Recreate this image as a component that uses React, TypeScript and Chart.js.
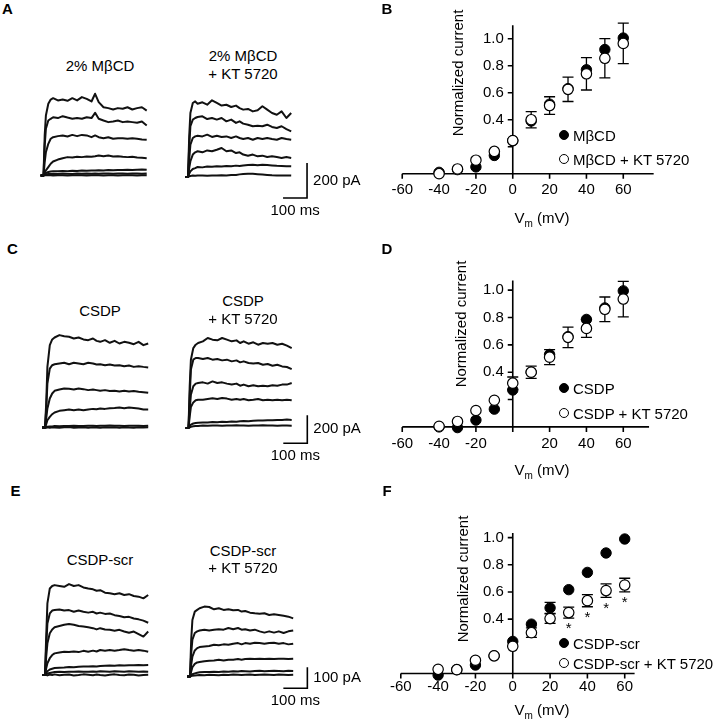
import React, { useEffect, useRef } from "react";
import { Chart, registerables } from "chart.js";
Chart.register(...registerables);

const FONT = '"Liberation Sans", Arial, Helvetica, sans-serif';

// ---------------- I-V data (normalized current) ----------------
const voltages = [-40, -30, -20, -10, 0, 10, 20, 30, 40, 50, 60];
const xTickValues = [-60, -40, -20, 0, 20, 40, 60];
const xTickLabelsB = ["-60", "-40", "-20", "0", "20", "40", "60"];
const xTickLabelsD = ["-60", "-40", "-20", "", "20", "40", "60"];
const xTickLabelsF = ["-60", "-40", "-20", "0", "20", "40", "60"];
const yTickValues = [0.2, 0.4, 0.6, 0.8, 1.0];
const yTickLabels = ["", "0.4", "0.6", "0.8", "1.0"];

const bFilled = [0.01, 0.03, 0.05, 0.135, 0.245, 0.39, 0.515, 0.63, 0.77, 0.92, 1.005];
const bFilledErr = [0, 0, 0, 0, 0, 0, 0, 0, 0, 0, 0];
const bOpen = [0.0, 0.035, 0.1, 0.165, 0.245, 0.4, 0.505, 0.625, 0.74, 0.855, 0.965];
const bOpenErr = [0, 0, 0, 0, 0, 0.06, 0.065, 0.09, 0.12, 0.145, 0.15];

const dFilled = [0.0, -0.005, 0.05, 0.13, 0.27, 0.4, 0.53, 0.66, 0.786, 0.87, 0.995];
const dFilledErr = [0, 0, 0, 0, 0, 0, 0, 0, 0, 0, 0];
const dOpen = [0.005, 0.04, 0.12, 0.195, 0.32, 0.4, 0.51, 0.655, 0.72, 0.86, 0.935];
const dOpenErr = [0, 0, 0, 0, 0.045, 0.045, 0.055, 0.075, 0.065, 0.09, 0.13];

const fFilled = [-0.012, 0.028, 0.062, 0.13, 0.236, 0.363, 0.483, 0.617, 0.744, 0.887, 0.99];
const fFilledErr = [0, 0, 0, 0, 0, 0, 0.04, 0, 0, 0, 0];
const fOpen = [0.03, 0.028, 0.097, 0.13, 0.2, 0.3, 0.404, 0.448, 0.536, 0.61, 0.651];
const fOpenErr = [0, 0, 0, 0, 0, 0.035, 0.035, 0.04, 0.045, 0.05, 0.05];
const fStarVoltages = [30, 40, 50, 60];

// ---------------- current traces (pA vs ms) ----------------
const traceTimes = [-12, 0, 5, 10, 20, 30, 40, 60, 80, 100, 120, 140, 160, 180, 200, 215, 230, 250, 270, 290, 310, 330, 350, 370, 390, 410, 430];

const aLeft = [
  [0, 0, 229, 343, 410, 434, 442, 429, 434, 427, 442, 429, 448, 438, 423, 467, 419, 390, 385, 377, 385, 381, 390, 377, 385, 390, 371],
  [0, 0, 171, 267, 314, 324, 333, 328, 339, 331, 324, 328, 324, 333, 328, 358, 324, 314, 305, 309, 314, 305, 309, 305, 301, 309, 286],
  [0, 0, 76, 133, 181, 210, 219, 225, 229, 223, 232, 225, 232, 229, 219, 229, 219, 213, 219, 210, 213, 213, 210, 213, 210, 206, 204],
  [0, 0, 15, 29, 48, 67, 80, 91, 99, 105, 103, 107, 105, 109, 107, 110, 114, 110, 114, 109, 110, 107, 105, 107, 103, 101, 99],
  [0, 0, 8, 14, 20, 23, 25, 24, 26, 25, 27, 26, 28, 27, 29, 28, 30, 29, 31, 30, 32, 31, 33, 32, 33, 34, 33],
  [0, 0, 4, 6, 8, 9, 10, 9, 11, 10, 9, 11, 10, 12, 10, 11, 10, 12, 11, 10, 12, 11, 10, 11, 12, 10, 11],
  [0, 0, 2, 1, 2, 1, 0, 2, 1, 0, 2, 1, 2, 0, 1, 2, 1, 0, 2, 1, 0, 1, 2, 1, 0, 1, 2],
];
const aRight = [
  [0, 0, 232, 366, 423, 432, 419, 427, 413, 438, 423, 408, 413, 400, 408, 394, 385, 389, 375, 381, 404, 385, 366, 356, 375, 337, 366],
  [0, 0, 175, 290, 328, 337, 343, 347, 331, 337, 328, 337, 318, 328, 309, 318, 305, 299, 290, 293, 290, 299, 286, 280, 290, 274, 261],
  [0, 0, 99, 185, 223, 232, 236, 232, 242, 229, 236, 229, 232, 223, 232, 223, 217, 223, 213, 223, 217, 223, 217, 213, 223, 217, 213],
  [0, 0, 51, 90, 128, 141, 147, 141, 152, 147, 156, 166, 147, 152, 137, 141, 128, 122, 128, 118, 122, 114, 118, 114, 109, 114, 109],
  [0, 0, 19, 32, 46, 51, 57, 55, 60, 58, 62, 60, 63, 61, 65, 63, 66, 68, 70, 67, 70, 68, 66, 64, 63, 62, 61],
  [0, 0, 4, 6, 8, 7, 9, 8, 7, 9, 8, 10, 9, 11, 12, 15, 17, 19, 18, 16, 14, 12, 10, 9, 8, 9, 8],
];
const cLeft = [
  [0, 0, 171, 433, 588, 629, 643, 660, 652, 648, 636, 643, 629, 624, 636, 619, 612, 624, 605, 619, 600, 612, 605, 595, 612, 588, 600],
  [0, 0, 124, 314, 421, 445, 452, 457, 462, 452, 462, 457, 452, 462, 457, 450, 452, 445, 450, 443, 445, 438, 443, 433, 438, 433, 429],
  [0, 0, 64, 136, 207, 243, 262, 271, 279, 276, 271, 279, 274, 267, 271, 267, 262, 267, 260, 262, 257, 262, 257, 260, 255, 252, 248],
  [0, 0, 24, 52, 76, 95, 107, 119, 124, 129, 124, 129, 124, 129, 133, 131, 136, 133, 138, 140, 143, 138, 143, 140, 136, 129, 129],
  [0, 0, 3, 5, 7, 8, 10, 9, 11, 10, 12, 10, 11, 13, 12, 11, 13, 12, 14, 12, 13, 11, 12, 13, 12, 11, 12],
  [0, 0, -2, 1, -1, 2, 0, -2, 1, 3, -1, 0, 2, -1, 1, 0, -2, 2, 0, 1, -1, 2, 0, -1, 1, 0, 2],
];
const cRight = [
  [0, 0, 298, 488, 571, 595, 607, 619, 643, 631, 626, 643, 631, 619, 626, 607, 619, 602, 612, 595, 607, 602, 607, 595, 602, 588, 571],
  [0, 0, 226, 417, 488, 500, 500, 493, 500, 488, 493, 483, 488, 476, 483, 469, 476, 464, 460, 464, 452, 457, 445, 452, 440, 436, 421],
  [0, 0, 131, 238, 298, 317, 321, 326, 317, 333, 321, 326, 317, 310, 317, 302, 310, 298, 305, 298, 302, 298, 305, 302, 310, 310, 321],
  [0, 0, 83, 150, 183, 198, 202, 202, 207, 212, 207, 214, 210, 202, 207, 202, 207, 198, 202, 207, 198, 202, 198, 202, 198, 202, 198],
  [0, 0, 14, 24, 32, 36, 38, 40, 39, 42, 41, 44, 43, 46, 45, 48, 50, 49, 52, 54, 53, 56, 55, 58, 57, 60, 58],
  [0, 0, 5, 9, 12, 14, 15, 17, 16, 18, 17, 16, 18, 17, 19, 18, 17, 16, 18, 17, 19, 18, 17, 16, 18, 17, 16],
];
const eLeft = [
  [0, 0, 183, 341, 412, 424, 428, 424, 420, 433, 424, 428, 417, 412, 408, 401, 404, 392, 389, 385, 389, 381, 385, 376, 373, 365, 381],
  [0, 0, 135, 245, 293, 307, 309, 312, 307, 309, 301, 307, 301, 297, 301, 293, 297, 291, 293, 285, 281, 275, 277, 269, 265, 259, 249],
  [0, 0, 87, 151, 199, 217, 227, 233, 239, 243, 239, 233, 231, 227, 223, 217, 223, 217, 215, 211, 215, 207, 201, 207, 195, 183, 207],
  [0, 0, 32, 56, 80, 95, 103, 107, 111, 109, 112, 109, 115, 111, 116, 112, 119, 116, 119, 116, 119, 123, 119, 116, 119, 116, 111],
  [0, 0, 10, 18, 26, 30, 33, 35, 36, 38, 37, 39, 40, 41, 42, 41, 43, 44, 45, 44, 46, 45, 47, 46, 48, 47, 48],
  [0, 0, 4, 7, 10, 12, 14, 15, 14, 16, 15, 17, 16, 15, 17, 16, 18, 17, 16, 18, 17, 16, 18, 17, 16, 17, 16],
  [0, 0, 1, -2, 2, 0, 3, -1, 1, 2, -2, 0, 3, 1, -1, 2, 0, -2, 1, 3, 0, -1, 2, 1, -2, 0, 1],
];
const eRight = [
  [0, 0, 175, 269, 309, 317, 325, 333, 331, 320, 325, 317, 320, 315, 317, 309, 312, 304, 301, 299, 301, 293, 296, 293, 289, 285, 277],
  [0, 0, 111, 175, 207, 215, 219, 223, 219, 223, 225, 223, 231, 225, 231, 223, 225, 219, 223, 215, 209, 215, 209, 215, 207, 215, 219],
  [0, 0, 56, 95, 124, 135, 140, 143, 145, 151, 149, 153, 151, 156, 159, 153, 159, 156, 161, 159, 156, 159, 161, 156, 159, 153, 156],
  [0, 0, 24, 44, 60, 67, 69, 73, 75, 76, 80, 76, 80, 80, 83, 80, 83, 84, 83, 85, 83, 85, 83, 84, 85, 83, 84],
  [0, 0, 6, 11, 15, 18, 20, 21, 22, 23, 22, 24, 23, 25, 24, 26, 25, 24, 26, 27, 25, 26, 27, 26, 25, 27, 26],
  [0, 0, 2, 4, 5, 6, 7, 6, 8, 7, 6, 8, 7, 9, 8, 7, 8, 9, 7, 8, 9, 8, 7, 9, 8, 7, 8],
];

// scale bars (in data units of the right-hand trace charts)
const scaleBarA = { t: 496, pA: -120, ms: 100, amp: 200 };
const scaleBarC = { t: 495, pA: -109, ms: 100, amp: 200 };
const scaleBarE = { t: 489, pA: -56, ms: 100, amp: 100 };

type Box = { left: number; top: number; width: number; height: number };
type Bar = { t: number; pA: number; ms: number; amp: number };

function TraceChart(props: {
  box: Box; ox: number; oy: number; pxMs: number; pxPA: number;
  traces: number[][]; bar?: Bar;
}) {
  const ref = useRef<HTMLCanvasElement>(null);
  const { box, ox, oy, pxMs, pxPA, traces, bar } = props;
  useEffect(() => {
    const xMin = (box.left - ox) / pxMs;
    const xMax = (box.left + box.width - ox) / pxMs;
    const yMax = (oy - box.top) / pxPA;
    const yMin = (oy - box.top - box.height) / pxPA;
    const barPlugin = {
      id: "scaleBar",
      afterDraw(chart: any) {
        if (!bar) return;
        const { ctx } = chart;
        const x = chart.scales.x, y = chart.scales.y;
        const xr = x.getPixelForValue(bar.t);
        const xl = x.getPixelForValue(bar.t - bar.ms);
        const yb = y.getPixelForValue(bar.pA);
        const yt = y.getPixelForValue(bar.pA + bar.amp);
        ctx.save();
        ctx.strokeStyle = "#000";
        ctx.lineWidth = 1.6;
        ctx.beginPath();
        ctx.moveTo(xl, yb);
        ctx.lineTo(xr, yb);
        ctx.lineTo(xr, yt);
        ctx.stroke();
        ctx.fillStyle = "#000";
        ctx.font = `15px ${FONT}`;
        ctx.textAlign = "left";
        ctx.textBaseline = "middle";
        ctx.fillText(`${bar.amp} pA`, xr + 6, (yb + yt) / 2);
        ctx.textAlign = "center";
        ctx.fillText(`${bar.ms} ms`, (xl + xr) / 2, yb + 13);
        ctx.restore();
      },
    };
    const chart = new Chart(ref.current as HTMLCanvasElement, {
      type: "line",
      data: {
        datasets: traces.map((v) => ({
          data: traceTimes.map((t, i) => ({ x: t, y: v[i] })),
          borderColor: "#111",
          borderWidth: 2,
          pointRadius: 0,
          tension: 0,
          fill: false,
          borderJoinStyle: "round" as const,
        })),
      },
      options: {
        animation: false,
        responsive: false,
        devicePixelRatio: 1,
        events: [],
        layout: { padding: 0 },
        scales: {
          x: { type: "linear", display: false, min: xMin, max: xMax },
          y: { type: "linear", display: false, min: yMin, max: yMax },
        },
        plugins: { legend: { display: false }, tooltip: { enabled: false } },
      },
      plugins: [barPlugin],
    } as any);
    return () => chart.destroy();
  }, []);
  return (
    <canvas
      ref={ref}
      width={box.width}
      height={box.height}
      style={{ position: "absolute", left: box.left, top: box.top, width: box.width, height: box.height }}
    />
  );
}

function IVChart(props: {
  box: Box; ox: number; oy: number; pxMv: number; pxUnit: number;
  xEnd: number; yTop: number;
  filled: number[]; filledErr: number[]; open: number[]; openErr: number[];
  xLabels: string[]; labelGap: number; stars?: number[];
}) {
  const ref = useRef<HTMLCanvasElement>(null);
  const p = props;
  useEffect(() => {
    const { box } = p;
    const xMin = (box.left - p.ox) / p.pxMv;
    const xMax = (box.left + box.width - p.ox) / p.pxMv;
    const yMax = (p.oy - box.top) / p.pxUnit;
    const yMin = (p.oy - box.top - box.height) / p.pxUnit;
    const axesPlugin = {
      id: "ivAxes",
      beforeDatasetsDraw(chart: any) {
        const { ctx } = chart;
        const x = chart.scales.x, y = chart.scales.y;
        const x0 = x.getPixelForValue(0), y0 = y.getPixelForValue(0);
        ctx.save();
        ctx.strokeStyle = "#000";
        ctx.fillStyle = "#000";
        ctx.lineWidth = 1.6;
        ctx.beginPath();
        ctx.moveTo(x.getPixelForValue(xTickValues[0]), y0);
        ctx.lineTo(x.getPixelForValue(p.xEnd), y0);
        ctx.moveTo(x0, y0);
        ctx.lineTo(x0, y.getPixelForValue(p.yTop));
        xTickValues.forEach((v) => {
          const px = x.getPixelForValue(v);
          ctx.moveTo(px, y0);
          ctx.lineTo(px, y0 + 5);
        });
        yTickValues.forEach((v) => {
          const py = y.getPixelForValue(v);
          ctx.moveTo(x0, py);
          ctx.lineTo(x0 - 5, py);
        });
        ctx.stroke();
        ctx.font = `15px ${FONT}`;
        ctx.textAlign = "center";
        ctx.textBaseline = "top";
        xTickValues.forEach((v, i) => {
          if (p.xLabels[i]) ctx.fillText(p.xLabels[i], x.getPixelForValue(v), y0 + p.labelGap);
        });
        ctx.textAlign = "right";
        ctx.textBaseline = "middle";
        yTickValues.forEach((v, i) => {
          if (yTickLabels[i]) ctx.fillText(yTickLabels[i], x0 - 9, y.getPixelForValue(v));
        });
        // error bars
        ctx.lineWidth = 1.3;
        const drawErr = (vals: number[], errs: number[]) => {
          voltages.forEach((v, i) => {
            const e = errs[i];
            if (!e) return;
            const px = x.getPixelForValue(v);
            const pt = y.getPixelForValue(vals[i] + e);
            const pb = y.getPixelForValue(vals[i] - e);
            ctx.beginPath();
            ctx.moveTo(px, pt);
            ctx.lineTo(px, pb);
            ctx.moveTo(px - 5.5, pt);
            ctx.lineTo(px + 5.5, pt);
            ctx.moveTo(px - 5.5, pb);
            ctx.lineTo(px + 5.5, pb);
            ctx.stroke();
          });
        };
        drawErr(p.filled, p.filledErr);
        drawErr(p.open, p.openErr);
        ctx.restore();
      },
      afterDatasetsDraw(chart: any) {
        if (!p.stars) return;
        const { ctx } = chart;
        const x = chart.scales.x, y = chart.scales.y;
        ctx.save();
        ctx.fillStyle = "#000";
        ctx.font = `15px ${FONT}`;
        ctx.textAlign = "center";
        ctx.textBaseline = "middle";
        p.stars.forEach((v) => {
          const i = voltages.indexOf(v);
          const py = y.getPixelForValue(p.open[i] - p.openErr[i]);
          ctx.fillText("*", x.getPixelForValue(v), py + 11);
        });
        ctx.restore();
      },
    };
    const chart = new Chart(ref.current as HTMLCanvasElement, {
      type: "scatter",
      data: {
        datasets: [
          {
            data: voltages.map((v, i) => ({ x: v, y: p.filled[i] })),
            pointRadius: 5.2,
            pointBackgroundColor: "#000",
            pointBorderColor: "#000",
            pointBorderWidth: 1,
            showLine: false,
            order: 2,
            clip: false,
          },
          {
            data: voltages.map((v, i) => ({ x: v, y: p.open[i] })),
            pointRadius: 5.2,
            pointBackgroundColor: "#fff",
            pointBorderColor: "#000",
            pointBorderWidth: 1.2,
            showLine: false,
            order: 1,
            clip: false,
          },
        ],
      },
      options: {
        animation: false,
        responsive: false,
        devicePixelRatio: 1,
        events: [],
        layout: { padding: 0 },
        scales: {
          x: { type: "linear", display: false, min: xMin, max: xMax },
          y: { type: "linear", display: false, min: yMin, max: yMax },
        },
        plugins: { legend: { display: false }, tooltip: { enabled: false } },
      },
      plugins: [axesPlugin],
    } as any);
    return () => chart.destroy();
  }, []);
  const { box } = p;
  return (
    <canvas
      ref={ref}
      width={box.width}
      height={box.height}
      style={{ position: "absolute", left: box.left, top: box.top, width: box.width, height: box.height }}
    />
  );
}

function T(props: { x: number; y: number; children: any; size?: number; bold?: boolean; rotate?: boolean; left?: boolean }) {
  const { x, y, children, size = 15, bold = false, rotate = false, left = false } = props;
  return (
    <div
      style={{
        position: "absolute",
        left: x,
        top: y,
        transform: `translate(${left ? "0" : "-50%"},-50%)${rotate ? " rotate(-90deg)" : ""}`,
        fontSize: size,
        fontWeight: bold ? 700 : 400,
        lineHeight: 1,
        whiteSpace: "nowrap",
      }}
    >
      {children}
    </div>
  );
}

function Marker(props: { x: number; y: number; filled: boolean }) {
  return (
    <div
      style={{
        position: "absolute",
        left: props.x - 5.2,
        top: props.y - 5.2,
        width: 10.4,
        height: 10.4,
        boxSizing: "border-box",
        borderRadius: "50%",
        border: "1.2px solid #000",
        background: props.filled ? "#000" : "#fff",
      }}
    />
  );
}

function Vm(props: { x: number; y: number }) {
  return (
    <T x={props.x} y={props.y}>
      V<span style={{ fontSize: 10, position: "relative", top: 4 }}>m</span> (mV)
    </T>
  );
}

export default function App() {
  return (
    <div
      style={{
        position: "fixed",
        left: 0,
        top: 0,
        width: 720,
        height: 720,
        background: "#fff",
        overflow: "hidden",
        fontFamily: FONT,
        color: "#000",
      }}
    >
      {/* Panel A */}
      <TraceChart box={{ left: 30, top: 85, width: 135, height: 105 }} ox={43.5} oy={175.5} pxMs={0.24} pxPA={0.175} traces={aLeft} />
      <TraceChart box={{ left: 175, top: 85, width: 195, height: 140 }} ox={188} oy={177} pxMs={0.24} pxPA={0.175} traces={aRight} bar={scaleBarA} />
      {/* Panel C */}
      <TraceChart box={{ left: 30, top: 320, width: 135, height: 115 }} ox={45} oy={427.5} pxMs={0.24} pxPA={0.14} traces={cLeft} />
      <TraceChart box={{ left: 175, top: 320, width: 195, height: 150 }} ox={188.5} oy={428} pxMs={0.24} pxPA={0.14} traces={cRight} bar={scaleBarC} />
      {/* Panel E */}
      <TraceChart box={{ left: 30, top: 570, width: 135, height: 112 }} ox={45} oy={675} pxMs={0.24} pxPA={0.21} traces={eLeft} />
      <TraceChart box={{ left: 175, top: 570, width: 195, height: 140 }} ox={190} oy={676.5} pxMs={0.24} pxPA={0.21} traces={eRight} bar={scaleBarE} />

      {/* Panel B */}
      <IVChart box={{ left: 380, top: 10, width: 340, height: 220 }} ox={511.3} oy={177} pxMv={1.914} pxUnit={143.3}
        xEnd={76.5} yTop={1.1} filled={bFilled} filledErr={bFilledErr} open={bOpen} openErr={bOpenErr}
        xLabels={xTickLabelsB} labelGap={9} />
      {/* Panel D */}
      <IVChart box={{ left: 380, top: 255, width: 340, height: 225 }} ox={511.3} oy={430.5} pxMv={1.914} pxUnit={145}
        xEnd={74} yTop={1.07} filled={dFilled} filledErr={dFilledErr} open={dOpen} openErr={dOpenErr}
        xLabels={xTickLabelsD} labelGap={9} />
      {/* Panel F */}
      <IVChart box={{ left: 380, top: 505, width: 340, height: 215 }} ox={511.3} oy={677.3} pxMv={1.939} pxUnit={144.4}
        xEnd={65.3} yTop={1.035} filled={fFilled} filledErr={fFilledErr} open={fOpen} openErr={fOpenErr}
        xLabels={xTickLabelsF} labelGap={6} stars={fStarVoltages} />

      {/* panel letters */}
      <T x={7.5} y={8} size={15} bold>A</T>
      <T x={387} y={8} size={15} bold>B</T>
      <T x={12.5} y={248} size={15} bold>C</T>
      <T x={387} y={248} size={15} bold>D</T>
      <T x={15.5} y={490} size={15} bold>E</T>
      <T x={387} y={490} size={15} bold>F</T>

      {/* trace titles */}
      <T x={100} y={65}>2% MβCD</T>
      <T x={243} y={55}>2% MβCD</T>
      <T x={243} y={73}>+ KT 5720</T>
      <T x={100} y={310}>CSDP</T>
      <T x={243} y={300}>CSDP</T>
      <T x={243} y={318}>+ KT 5720</T>
      <T x={100} y={559}>CSDP-scr</T>
      <T x={243} y={550}>CSDP-scr</T>
      <T x={243} y={567}>+ KT 5720</T>

      {/* axis titles */}
      <T x={457} y={73} rotate>Normalized current</T>
      <T x={460} y={323.5} rotate>Normalized current</T>
      <T x={461.5} y={579} rotate>Normalized current</T>
      <Vm x={542} y={217} />
      <Vm x={542} y={469} />
      <Vm x={542} y={709} />

      {/* legends */}
      <Marker x={564} y={135} filled />
      <T x={573} y={135} left>MβCD</T>
      <Marker x={564} y={159} filled={false} />
      <T x={573} y={159} left>MβCD + KT 5720</T>

      <Marker x={564} y={388} filled />
      <T x={573} y={388} left>CSDP</T>
      <Marker x={564} y={413} filled={false} />
      <T x={573} y={413} left>CSDP + KT 5720</T>

      <Marker x={564} y={643} filled />
      <T x={573} y={643} left>CSDP-scr</T>
      <Marker x={564} y={663} filled={false} />
      <T x={573} y={663} left>CSDP-scr + KT 5720</T>
    </div>
  );
}
